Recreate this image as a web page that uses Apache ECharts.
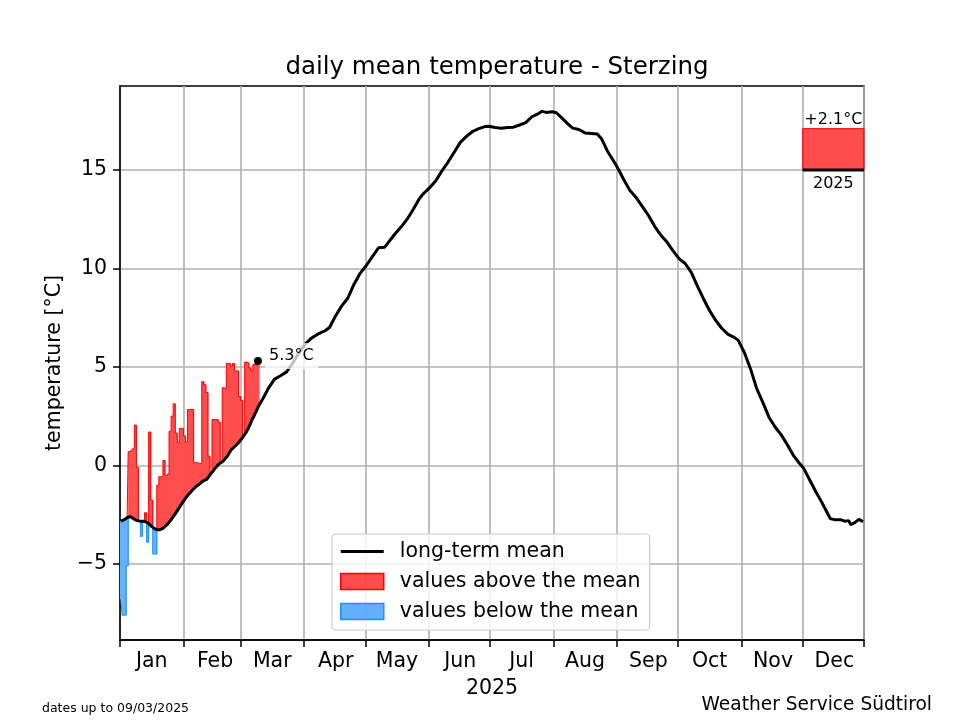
<!DOCTYPE html>
<html><head><meta charset="utf-8">
<script src="https://cdn.jsdelivr.net/npm/echarts@6/dist/echarts.min.js"></script>
<style>html,body{margin:0;padding:0;background:#fff}#c{width:960px;height:720px}</style>
</head><body><div id="c"></div>
<script>
// ---------- data ----------
const year = 2025;
const monthNames = ['Jan','Feb','Mar','Apr','May','Jun','Jul','Aug','Sep','Oct','Nov','Dec'];
const monthLengths = [31,28,31,30,31,30,31,31,30,31,30,31];
const yTicks = [-5, 0, 5, 10, 15];

// observed daily means, 1 Jan .. 9 Mar 2025
const observed = [
  -6.8,-7.6,-7.6,-5.1,0.7,0.8,0.9,2.05,-0.1,-2.9,
  -3.6,-2.85,-2.4,-3.9,1.7,-1.76,-4.5,-4.5,-1.0,-0.57,
  -0.6,0.25,-0.5,-0.4,1.74,2.5,3.13,1.65,1.15,1.88,
  1.88,1.5,1.2,2.84,2.84,2.84,0.14,0.14,0.1,0.1,
  4.25,4.1,3.7,0.47,-0.45,2.33,2.33,2.33,2.2,0.15,
  3.94,3.9,5.18,5.18,5.03,5.18,4.8,4.8,3.5,3.3,
  1.5,5.25,5.2,4.95,4.8,5.13,5.1,5.3
];
// long-term mean for the same days
const meanEarly = [
  -2.83,-2.78,-2.72,-2.65,-2.6,-2.62,-2.7,-2.76,-2.8,-2.82,
  -2.83,-2.83,-2.86,-2.9,-3.0,-3.1,-3.17,-3.24,-3.27,-3.26,
  -3.22,-3.15,-3.05,-2.95,-2.82,-2.68,-2.53,-2.38,-2.22,-2.06,
  -1.9,-1.75,-1.6,-1.47,-1.36,-1.25,-1.14,-1.05,-0.97,-0.88,
  -0.8,-0.74,-0.7,-0.55,-0.4,-0.29,-0.15,-0.02,0.08,0.15,
  0.22,0.35,0.47,0.65,0.8,0.9,1.0,1.1,1.22,1.35,
  1.5,1.65,1.83,2.05,2.3,2.5,2.72,2.95
];
// long-term mean for the rest of the year (day index, value)
const meanLateDays = [70,72,75,78,81,84,87,90,93,96,100,102,105,108,111,114,117,120,123,126,129,131,134,137,140,143,146,148,151,154,157,160,163,166,169,172,175,178,180,183,186,189,192,195,198,201,204,206,208,211,213,216,219,221,224,227,230,233,235,238,241,243,246,249,252,255,258,261,264,267,270,273,276,279,282,285,288,291,294,297,300,302,305,308,311,314,317,320,323,326,329,332,334,337,340,343,345,347,349,352,354,356,357,359,361,363];
const meanLateValues = [3.5,3.9,4.37,4.55,4.75,5.2,5.7,6.15,6.45,6.65,6.85,7.0,7.6,8.1,8.5,9.2,9.75,10.15,10.6,11.05,11.08,11.35,11.75,12.1,12.5,13.0,13.55,13.8,14.1,14.45,14.95,15.4,15.9,16.4,16.7,16.95,17.1,17.2,17.22,17.15,17.12,17.15,17.17,17.28,17.4,17.7,17.85,17.97,17.92,17.95,17.9,17.6,17.3,17.12,17.05,16.88,16.85,16.82,16.6,15.95,15.45,15.1,14.5,13.95,13.6,13.15,12.7,12.15,11.7,11.35,10.9,10.5,10.25,9.8,9.1,8.45,7.85,7.35,6.95,6.65,6.5,6.35,5.72,4.9,3.9,3.2,2.45,1.95,1.55,1.05,0.5,0.1,-0.15,-0.75,-1.35,-1.9,-2.3,-2.7,-2.75,-2.75,-2.83,-2.8,-3.0,-2.9,-2.74,-2.85];

// year anomaly so far
const anomalyYear = '2025';
const anomalyValue = 2.1;
const anomalyBase = 15;

// ---------- derived ----------
const categories = [];
const monthStarts = [];
for (let m = 0; m < 12; m++) {
  monthStarts.push(categories.length);
  for (let d = 1; d <= monthLengths[m]; d++) {
    categories.push(year + '-' + String(m + 1).padStart(2, '0') + '-' + String(d).padStart(2, '0'));
  }
}
categories.pop(); // axis spans 1 Jan .. 31 Dec 00:00
const nDays = categories.length;
const labelIdx = monthStarts.map(s => s + 15);
const startSet = new Set(monthStarts);
const labelMap = {}; labelIdx.forEach((k, i) => labelMap[k] = monthNames[i]);

const meanData = meanEarly.map((v, i) => [i, v]).concat(meanLateDays.map((d, i) => [d, meanLateValues[i]]));
const aboveData = [], belowData = [];
observed.forEach((o, i) => {
  if (o >= meanEarly[i]) aboveData.push([i, meanEarly[i], o]);
  else belowData.push([i, meanEarly[i], o]);
});
const redEdge = observed.map((o, i) => [i, Math.max(o, meanEarly[i])]);
const blueEdge = observed.map((o, i) => [i, Math.min(o, meanEarly[i])]);
const lastIdx = observed.length - 1;

const RED = 'rgba(255,0,0,0.7)', BLUE = 'rgba(30,144,255,0.7)';
const RED_SOLID = 'rgb(255,77,77)', BLUE_SOLID = 'rgb(98,177,255)';
const FONT = 'DejaVu Sans';

function renderBar(params, api) {
  const i = api.value(0), m = api.value(1), o = api.value(2);
  const p0 = api.coord([i, m]), p1 = api.coord([i, o]);
  const w = api.size([1, 0])[0];
  return {
    type: 'rect',
    shape: { x: p0[0] - w / 2, y: Math.min(p0[1], p1[1]), width: w + 0.6, height: Math.abs(p1[1] - p0[1]) },
    style: { fill: api.visual('color') }
  };
}

function renderAnomaly(params, api) {
  const s = api.value(0), e = api.value(1), base = api.value(2), val = api.value(3);
  const w = api.size([1, 0])[0];
  const b0 = api.coord([s, base]), b1 = api.coord([e, base]);
  const t0 = api.coord([s, base + val]);
  const x0 = b0[0] - w / 2, x1 = b1[0] + w / 2;
  const cx = (x0 + x1) / 2;
  return {
    type: 'group',
    children: [
      { type: 'rect', shape: { x: x0, y: t0[1], width: x1 - x0, height: b0[1] - t0[1] }, style: { fill: RED, stroke: 'rgba(255,0,0,0.9)', lineWidth: 1 } },
      { type: 'line', shape: { x1: x0, y1: b0[1], x2: x1, y2: b0[1] }, style: { stroke: '#000', lineWidth: 3 } },
      { type: 'text', x: cx, y: t0[1] - 1, style: { text: (val >= 0 ? '+' : '\u2212') + Math.abs(val).toFixed(1) + '°C', fontFamily: FONT, fontSize: 16, fill: '#000', align: 'center', verticalAlign: 'bottom' } },
      { type: 'text', x: cx, y: b0[1] + 6, style: { text: anomalyYear, fontFamily: FONT, fontSize: 16, fill: '#000', align: 'center', verticalAlign: 'top' } }
    ]
  };
}

const chart = echarts.init(document.getElementById('c'), null, { renderer: 'canvas' });
chart.setOption({
  animation: false,
  backgroundColor: '#fff',
  textStyle: { fontFamily: FONT },
  title: {
    text: 'daily mean temperature - Sterzing',
    left: 492, top: 50, textAlign: 'center',
    textStyle: { fontFamily: FONT, fontSize: 24.5, fontWeight: 'normal', color: '#000' }
  },
  grid: { left: 120, right: 96, top: 86, bottom: 80, show: true, borderColor: '#000', borderWidth: 1.5, backgroundColor: 'transparent' },
  legend: {
    orient: 'vertical', left: 332, top: 534,
    itemWidth: 43, itemHeight: 16, itemGap: 9,
    padding: [7, 9, 8, 8],
    symbolKeepAspect: true,
    backgroundColor: 'rgba(255,255,255,0.8)', borderColor: '#cccccc', borderWidth: 1.2, borderRadius: 4,
    textStyle: { fontFamily: FONT, fontSize: 20.5, color: '#000', padding: [0, 0, 0, 11] },
    data: [
      { name: 'long-term mean', icon: 'path://M0,0L43,0L43,3L0,3Z', itemStyle: { color: '#000', borderWidth: 0 } },
      { name: 'values above the mean', icon: 'rect', itemStyle: { color: RED, borderColor: 'red', borderWidth: 1.5 } },
      { name: 'values below the mean', icon: 'rect', itemStyle: { color: BLUE, borderColor: 'rgb(30,144,255)', borderWidth: 1.5 } }
    ]
  },
  xAxis: {
    type: 'category', data: categories, boundaryGap: true,
    name: String(year), nameLocation: 'middle', nameGap: 38,
    nameTextStyle: { fontFamily: FONT, fontSize: 20.5, color: '#000' },
    axisLine: { show: true, onZero: false, lineStyle: { color: '#000', width: 1.5 } },
    axisTick: { show: true, interval: (i) => startSet.has(i), length: 7, lineStyle: { color: '#000', width: 1.5 } },
    axisLabel: { interval: (i) => labelMap[i] !== undefined, formatter: (v, i) => labelMap[i] || '', fontFamily: FONT, fontSize: 20.5, color: '#000', margin: 11 },
    splitLine: { show: true, interval: (i) => startSet.has(i), lineStyle: { color: '#b0b0b0', width: 1.6 } }
  },
  yAxis: {
    type: 'value', min: -8.86, max: 19.26,
    name: 'temperature [°C]', nameLocation: 'middle', nameGap: 55,
    nameTextStyle: { fontFamily: FONT, fontSize: 20.5, color: '#000' },
    axisLine: { show: true, lineStyle: { color: '#000', width: 1.5 } },
    axisTick: { show: true, customValues: yTicks, length: 7, lineStyle: { color: '#000', width: 1.5 } },
    axisLabel: { customValues: yTicks, formatter: (v) => (v < 0 ? '\u2212' + Math.abs(v) : String(v)), fontFamily: FONT, fontSize: 20.5, color: '#000', margin: 13 },
    splitLine: { show: true, lineStyle: { color: '#b0b0b0', width: 1.6 } }
  },
  series: [
    { name: 'values above the mean', type: 'custom', renderItem: renderBar, data: aboveData, encode: { x: 0, y: [1, 2] }, itemStyle: { color: RED_SOLID }, z: 2 },
    { name: 'values below the mean', type: 'custom', renderItem: renderBar, data: belowData, encode: { x: 0, y: [1, 2] }, itemStyle: { color: BLUE_SOLID }, z: 2 },
    { name: 'redEdge', type: 'line', step: 'middle', data: redEdge, symbol: 'none', lineStyle: { color: 'red', width: 1 }, z: 3 },
    { name: 'blueEdge', type: 'line', step: 'middle', data: blueEdge, symbol: 'none', lineStyle: { color: 'rgb(30,144,255)', width: 1 }, z: 3 },
    { name: 'long-term mean', type: 'line', data: meanData, symbol: 'none', showSymbol: false, color: '#000', lineStyle: { color: '#000', width: 3 }, z: 4 },
    { name: 'anomaly', type: 'custom', renderItem: renderAnomaly, data: [[monthStarts[11], nDays - 1, anomalyBase, anomalyValue]], encode: { x: [0, 1], y: 2 }, z: 4 },
    { name: 'last', type: 'scatter', data: [[lastIdx, observed[lastIdx]]], symbolSize: 8, itemStyle: { color: '#000', opacity: 1 }, z: 6,
      label: { show: true, position: 'right', distance: 3, offset: [0, -5], formatter: (p) => p.value[1].toFixed(1) + '°C',
        fontFamily: FONT, fontSize: 16, color: '#000', opacity: 1, backgroundColor: 'rgba(255,255,255,0.75)', padding: [5, 5, 5, 4] } }
  ],
  graphic: [
    { type: 'text', left: 42, top: 702, style: { text: 'dates up to 09/03/' + year, fontFamily: FONT, fontSize: 12.5, fill: '#000' } },
    { type: 'text', right: 28, top: 696, style: { text: 'Weather Service Südtirol', fontFamily: FONT, fontSize: 18.6, fill: '#000' } }
  ]
});
</script></body></html>
